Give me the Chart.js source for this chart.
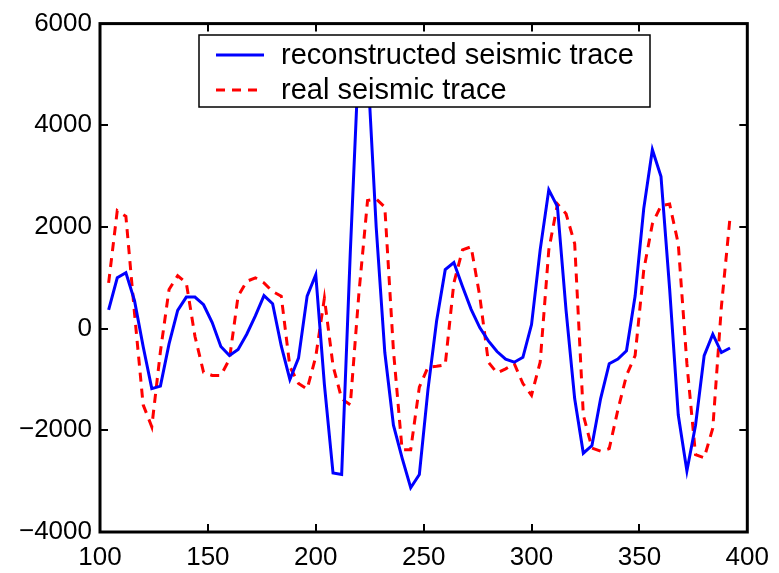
<!doctype html>
<html lang="en">
<head>
  <meta charset="utf-8">
  <title>Seismic trace</title>
  <style>
    * { margin: 0; padding: 0; }
    body { background: #fff; }
    .chartBox { width: 779px; height: 573px; }
  </style>
</head>
<body>
  <div class="chartBox">
    <canvas id="myChart" width="779" height="573"></canvas>
  </div>
  <script src="https://cdn.jsdelivr.net/npm/chart.js/dist/chart.umd.min.js"></script>
  <script>
    // sample positions
    const samples = [104, 108, 112, 116, 120, 124, 128, 132, 136, 140,
      144, 148, 152, 156, 160, 164, 168, 172, 176, 180,
      184, 188, 192, 196, 200, 204, 208, 212, 216, 220,
      224, 228, 232, 236, 240, 244, 248, 252, 256, 260,
      264, 268, 272, 276, 280, 284, 288, 292, 296, 300,
      304, 308, 312, 316, 320, 324, 328, 332, 336, 340,
      344, 348, 352, 356, 360, 364, 368, 372, 376, 380,
      384, 388, 392];

    const reconstructed = [370, 1000, 1100, 550, -350, -1180, -1130, -300, 360, 620,
      620, 470, 120, -350, -530, -410, -110, 250, 650, 490,
      -340, -1000, -580, 640, 1060, -1100, -2840, -2870, 1500, 5400,
      5200, 2000, -470, -1900, -2540, -3130, -2870, -1200, 150, 1160,
      1300, 830, 380, 20, -240, -450, -600, -660, -565, 80,
      1550, 2730, 2400, 360, -1380, -2450, -2300, -1380, -690, -600,
      -435, 640, 2360, 3520, 2990, 780, -1700, -2800, -1900, -530,
      -110, -470, -380];

    const real = [900, 2320, 2210, 300, -1500, -1930, -450, 770, 1040, 900,
      -150, -860, -920, -920, -600, 640, 930, 1000, 900, 730,
      640, -750, -1080, -1190, -550, 600, -730, -1380, -1500, 700,
      2520, 2550, 2390, -430, -2380, -2380, -1150, -760, -740, -710,
      900, 1550, 1610, 640, -660, -870, -790, -690, -1080, -1310,
      -660, 1550, 2450, 2260, 1670, -1700, -2350, -2410, -2360, -1600,
      -920, -530, 1150, 2060, 2420, 2450, 1670, -690, -2480, -2540,
      -1960, 440, 2190];

    const xTicks = [100, 150, 200, 250, 300, 350, 400];
    const yTicks = [-4000, -2000, 0, 2000, 4000, 6000];

    const FONT = 'Liberation Sans, Arial, sans-serif';

    const toPoints = (vals) => vals.map((v, i) => ({ x: samples[i], y: v }));

    const data = {
      datasets: [{
        label: 'reconstructed seismic trace',
        data: toPoints(reconstructed),
        borderColor: '#0000ff',
        borderWidth: 3,
        pointRadius: 0,
        tension: 0
      }, {
        label: 'real seismic trace',
        data: toPoints(real),
        borderColor: '#ff0000',
        borderWidth: 3,
        borderDash: [9, 7],
        pointRadius: 0,
        tension: 0
      }]
    };

    // box round the axes with inward ticks
    const frame = {
      id: 'frame',
      afterDatasetsDraw(chart) {
        const { ctx, chartArea: { top, bottom, left, right }, scales: { x, y } } = chart;
        ctx.save();
        ctx.strokeStyle = '#000';
        ctx.lineWidth = 2;
        xTicks.forEach(t => {
          const px = Math.round(x.getPixelForValue(t));
          ctx.beginPath();
          ctx.moveTo(px, bottom); ctx.lineTo(px, bottom - 8);
          ctx.moveTo(px, top); ctx.lineTo(px, top + 8);
          ctx.stroke();
        });
        yTicks.forEach(t => {
          const py = Math.round(y.getPixelForValue(t));
          ctx.beginPath();
          ctx.moveTo(left, py); ctx.lineTo(left + 8, py);
          ctx.moveTo(right, py); ctx.lineTo(right - 8, py);
          ctx.stroke();
        });
        ctx.lineWidth = 3;
        ctx.strokeRect(left, top, right - left, bottom - top);
        ctx.restore();
      }
    };

    // legend box inside the plot, drawn over the lines
    const boxLegend = {
      id: 'boxLegend',
      afterDraw(chart) {
        const { ctx } = chart;
        const bx = 199, by = 35, bw = 451, bh = 72;
        ctx.save();
        ctx.fillStyle = '#fff';
        ctx.fillRect(bx, by, bw, bh);
        ctx.strokeStyle = '#000';
        ctx.lineWidth = 1.5;
        ctx.strokeRect(bx, by, bw, bh);
        ctx.font = '29px ' + FONT;
        ctx.textBaseline = 'middle';
        chart.data.datasets.forEach((ds, i) => {
          const ly = 55 + i * 35;
          ctx.strokeStyle = ds.borderColor;
          ctx.lineWidth = 3;
          ctx.setLineDash(ds.borderDash || []);
          ctx.beginPath();
          ctx.moveTo(216, ly); ctx.lineTo(264, ly);
          ctx.stroke();
          ctx.setLineDash([]);
          ctx.fillStyle = '#000';
          ctx.fillText(ds.label, 281, ly + 1);
        });
        ctx.restore();
      }
    };

    const config = {
      type: 'line',
      data,
      options: {
        responsive: false,
        animation: false,
        layout: { padding: { top: 20, right: 27, left: 0, bottom: 0 } },
        plugins: {
          legend: { display: false },
          tooltip: { enabled: false }
        },
        scales: {
          x: {
            type: 'linear',
            min: 100,
            max: 400,
            afterBuildTicks: (scale) => { scale.ticks = xTicks.map(v => ({ value: v })); },
            afterFit: (scale) => { scale.height = 41; },
            grid: { display: false, drawTicks: false },
            border: { display: false },
            ticks: {
              color: '#000',
              padding: 10,
              maxRotation: 0,
              font: { family: FONT, size: 26 }
            }
          },
          y: {
            min: -4000,
            max: 6000,
            afterBuildTicks: (scale) => { scale.ticks = yTicks.map(v => ({ value: v })); },
            afterFit: (scale) => { scale.width = 100; },
            grid: { display: false, drawTicks: false },
            border: { display: false },
            ticks: {
              color: '#000',
              padding: 8,
              font: { family: FONT, size: 26 },
              callback: (v) => String(v).replace('-', '\u2212')
            }
          }
        }
      },
      plugins: [frame, boxLegend]
    };

    const ctx = document.getElementById('myChart');
    const myChart = new Chart(ctx, config);
  </script>
</body>
</html>
